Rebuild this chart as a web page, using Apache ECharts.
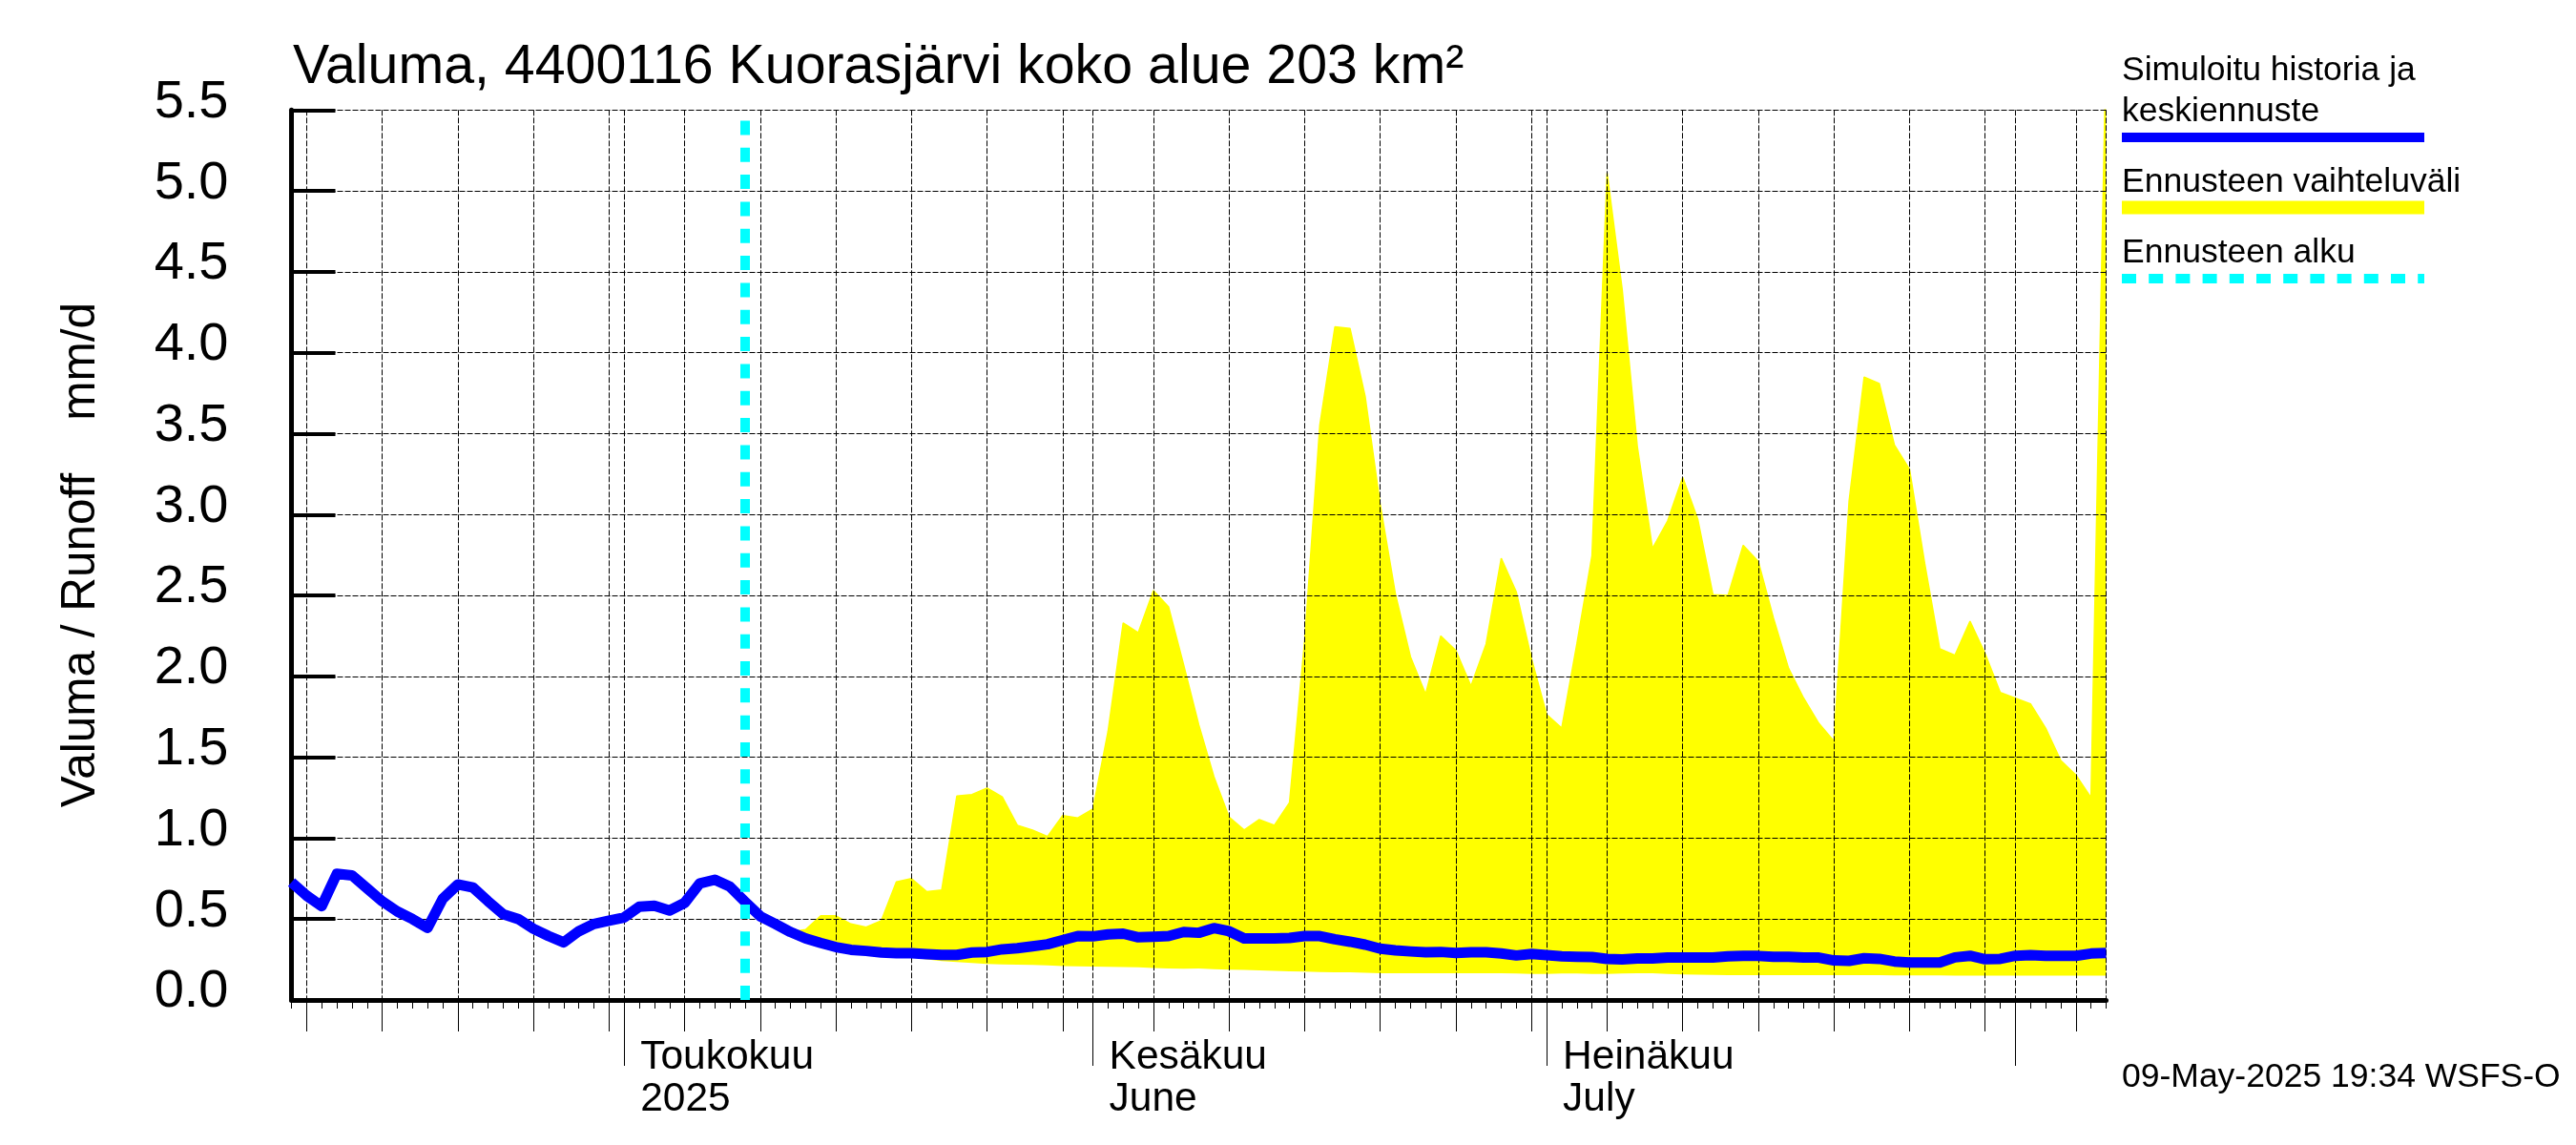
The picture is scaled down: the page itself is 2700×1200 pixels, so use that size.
<!DOCTYPE html>
<html>
<head>
<meta charset="utf-8">
<title>Valuma</title>
<script src="https://cdn.jsdelivr.net/npm/echarts@6/dist/echarts.min.js"></script>
<style>
    html, body { margin: 0; padding: 0; background: #fff; }
    #chart { width: 2700px; height: 1200px; }
</style>
</head>
<body>
<div id="chart"></div>
<script>
var FONT = '"Liberation Sans", Arial, sans-serif';

var startDate = Date.UTC(2025, 3, 9);
var dayCount = 121;
var forecastStart = '2025-05-09';
var monthStarts = ['2025-05-01', '2025-06-01', '2025-07-01', '2025-08-01'];
var monthLabels = {
    '2025-05-01': 'Toukokuu\n2025',
    '2025-06-01': 'Kesäkuu\nJune',
    '2025-07-01': 'Heinäkuu\nJuly'
};
var yTicks = [0, 0.5, 1, 1.5, 2, 2.5, 3, 3.5, 4, 4.5, 5, 5.5];

// simuloitu historia + keskiennuste, one value per day from 9 Apr
var medianRunoff = [
    0.727, 0.645, 0.58, 0.78, 0.77, 0.69, 0.61, 0.547, 0.50, 0.445,
    0.625, 0.714, 0.695, 0.61, 0.53, 0.50, 0.44, 0.395, 0.356, 0.425,
    0.47, 0.49, 0.51, 0.576, 0.582, 0.553, 0.60, 0.72, 0.743, 0.70,
    0.607, 0.517, 0.47, 0.42, 0.38, 0.352, 0.327, 0.31, 0.303, 0.293,
    0.289, 0.289, 0.283, 0.279, 0.279, 0.293, 0.297, 0.313, 0.32, 0.332,
    0.344, 0.37, 0.395, 0.393, 0.405, 0.41, 0.387, 0.39, 0.395, 0.42,
    0.415, 0.444, 0.425, 0.38, 0.38, 0.38, 0.383, 0.395, 0.395, 0.375,
    0.36, 0.342, 0.317, 0.307, 0.30, 0.295, 0.297, 0.29, 0.295, 0.295,
    0.287, 0.275, 0.285, 0.277, 0.27, 0.267, 0.265, 0.254, 0.25, 0.256,
    0.256, 0.262, 0.262, 0.262, 0.263, 0.27, 0.273, 0.272, 0.267, 0.267,
    0.262, 0.262, 0.244, 0.242, 0.258, 0.254, 0.238, 0.232, 0.232, 0.232,
    0.263, 0.273, 0.252, 0.254, 0.273, 0.277, 0.273, 0.273, 0.273, 0.287,
    0.29
];

// ennusteen vaihteluväli, from the forecast start (9 May) on
var bandUpper = [
    0.607, 0.517, 0.47, 0.42, 0.435, 0.52, 0.52, 0.47, 0.45, 0.49,
    0.73, 0.75, 0.67, 0.68, 1.26, 1.27, 1.31, 1.255, 1.08, 1.05,
    1.01, 1.14, 1.125, 1.18, 1.66, 2.33, 2.27, 2.53, 2.43, 2.07,
    1.70, 1.38, 1.13, 1.05, 1.115, 1.08, 1.22, 2.22, 3.55, 4.16,
    4.15, 3.73, 3.06, 2.51, 2.12, 1.89, 2.25, 2.16, 1.94, 2.2,
    2.73, 2.52, 2.11, 1.765, 1.68, 2.2, 2.745, 5.11, 4.39, 3.42,
    2.79, 2.96, 3.23, 2.97, 2.505, 2.5, 2.81, 2.71, 2.36, 2.05,
    1.865, 1.71, 1.60, 3.08, 3.85, 3.81, 3.43, 3.28, 2.7, 2.17,
    2.13, 2.34, 2.14, 1.90, 1.865, 1.83, 1.68, 1.48, 1.39, 1.25,
    5.9
];
var bandLower = [
    0.607, 0.517, 0.47, 0.42, 0.38, 0.345, 0.32, 0.30, 0.29, 0.28,
    0.275, 0.262, 0.25, 0.24, 0.235, 0.228, 0.222, 0.22, 0.218, 0.216,
    0.214, 0.21, 0.208, 0.206, 0.205, 0.203, 0.202, 0.197, 0.195, 0.193,
    0.195, 0.19, 0.187, 0.186, 0.183, 0.18, 0.177, 0.175, 0.173, 0.171,
    0.171, 0.168, 0.165, 0.165, 0.165, 0.165, 0.165, 0.165, 0.165, 0.165,
    0.165, 0.163, 0.161, 0.161, 0.163, 0.163, 0.161, 0.161, 0.163, 0.165,
    0.165, 0.16, 0.158, 0.156, 0.155, 0.153, 0.153, 0.153, 0.153, 0.153,
    0.153, 0.153, 0.153, 0.153, 0.153, 0.153, 0.152, 0.152, 0.152, 0.152,
    0.15, 0.15, 0.15, 0.15, 0.15, 0.15, 0.15, 0.15, 0.15, 0.15,
    0.15
];

var dates = [];
for (var i = 0; i < dayCount; i++) {
    dates.push(new Date(startDate + i * 86400000).toISOString().slice(0, 10));
}

var lead = dates.indexOf(forecastStart);
var lowerSeries = [], widthSeries = [];
for (var j = 0; j < dayCount; j++) {
    var k = j - lead;
    lowerSeries.push(k < 0 ? null : bandLower[k]);
    widthSeries.push(k < 0 ? null : bandUpper[k] - bandLower[k]);
}

function isMonthStart(index, value) {
    return monthStarts.indexOf(value) >= 0;
}
function isFiveDay(index, value) {
    var day = +value.slice(8);
    return day % 5 === 0;
}
function isGridDay(index, value) {
    return isFiveDay(index, value) || isMonthStart(index, value) || index === dayCount - 1;
}

var dashed = { color: '#000', width: 1, type: [6, 2] };

var chart = echarts.init(document.getElementById('chart'));
chart.setOption({
    animation: false,
    backgroundColor: '#fff',
    textStyle: { fontFamily: FONT },
    title: {
        text: 'Valuma, 4400116 Kuorasjärvi koko alue 203 km²',
        left: 302,
        top: 38,
        textStyle: { fontFamily: FONT, fontSize: 57.3, fontWeight: 'normal', color: '#000' }
    },
    grid: { left: 305.5, right: 492.5, top: 115.3, bottom: 152 },
    xAxis: [
        {
            // daily ticks and the axis line
            type: 'category', data: dates, boundaryGap: false, position: 'bottom', z: 2,
            axisLine: { show: true, onZero: false, lineStyle: { color: '#000', width: 5 } },
            axisTick: { show: true, interval: 0, length: 9, lineStyle: { color: '#000', width: 1 } },
            axisLabel: { show: false },
            splitLine: { show: false }
        },
        {
            // five-day ticks and the vertical grid
            type: 'category', data: dates, boundaryGap: false, position: 'bottom', z: 2,
            axisLine: { show: false, onZero: false },
            axisTick: { show: true, interval: isFiveDay, length: 33, lineStyle: { color: '#000', width: 1 } },
            axisLabel: { show: false },
            splitLine: { show: true, interval: isGridDay, lineStyle: dashed }
        },
        {
            // month ticks with their names
            type: 'category', data: dates, boundaryGap: false, position: 'bottom', z: 2,
            axisLine: { show: false, onZero: false },
            axisTick: { show: true, interval: isMonthStart, length: 69, lineStyle: { color: '#000', width: 1 } },
            axisLabel: {
                show: true,
                interval: isMonthStart,
                formatter: function (value) { return monthLabels[value] || ''; },
                margin: 38,
                align: 'left',
                verticalAlign: 'top',
                padding: [0, 0, 0, 17],
                fontFamily: FONT,
                fontSize: 42.5,
                lineHeight: 44,
                color: '#000'
            },
            splitLine: { show: false }
        }
    ],
    yAxis: {
        type: 'value', min: yTicks[0], max: yTicks[yTicks.length - 1], interval: 0.5, z: 2,
        name: 'Valuma / Runoff    mm/d',
        nameLocation: 'middle',
        nameRotate: 90,
        nameGap: 195,
        nameTextStyle: { fontFamily: FONT, fontSize: 49.5, color: '#000' },
        axisLine: { show: true, onZero: false, lineStyle: { color: '#000', width: 5 } },
        axisTick: { show: true, inside: true, length: 46, lineStyle: { color: '#000', width: 4 } },
        axisLabel: {
            margin: 66,
            fontFamily: FONT,
            fontSize: 56,
            color: '#000',
            verticalAlign: 'bottom',
            lineHeight: 16,
            formatter: function (v) { return v.toFixed(1); }
        },
        splitLine: { show: true, lineStyle: dashed }
    },
    series: [
        {
            name: 'band lower', type: 'line', data: lowerSeries, stack: 'band', z: 1,
            symbol: 'none', lineStyle: { width: 0, opacity: 0 }
        },
        {
            name: 'Ennusteen vaihteluväli', type: 'line', data: widthSeries, stack: 'band', z: 1,
            symbol: 'none', lineStyle: { color: '#ffff00', width: 1.5, join: 'bevel' },
            areaStyle: { color: '#ffff00', opacity: 1 }
        },
        {
            name: 'Ennusteen alku', type: 'line', data: [], z: 3,
            markLine: {
                silent: true,
                symbol: 'none',
                label: { show: false },
                lineStyle: { color: '#00ffff', width: 10, type: [15, 13.33] },
                data: [[{ xAxis: forecastStart, yAxis: 0 }, { xAxis: forecastStart, yAxis: 5.44 }]]
            }
        },
        {
            name: 'Simuloitu historia ja keskiennuste', type: 'line', data: medianRunoff, z: 4,
            symbol: 'none', lineStyle: { color: '#0000ff', width: 11, join: 'round' }
        }
    ],
    graphic: [
        legendText('Simuloitu historia ja', 74),
        legendText('keskiennuste', 117),
        legendBar('#0000ff', 144, 10, null),
        legendText('Ennusteen vaihteluväli', 191),
        legendBar('#ffff00', 217.5, 14, null),
        legendText('Ennusteen alku', 265),
        legendBar('#00ffff', 292, 10, [15, 13.2]),
        legendText('09-May-2025 19:34 WSFS-O', 1129)
    ]
});

function legendText(text, y) {
    return {
        type: 'text', x: 2224, y: y, z: 10,
        style: { text: text, font: '35.5px ' + FONT, fill: '#000', textVerticalAlign: 'middle' }
    };
}
function legendBar(color, y, width, dash) {
    return {
        type: 'line', z: 10,
        shape: { x1: 2224, y1: y, x2: 2541, y2: y },
        style: { stroke: color, lineWidth: width, lineDash: dash }
    };
}
</script>
</body>
</html>
